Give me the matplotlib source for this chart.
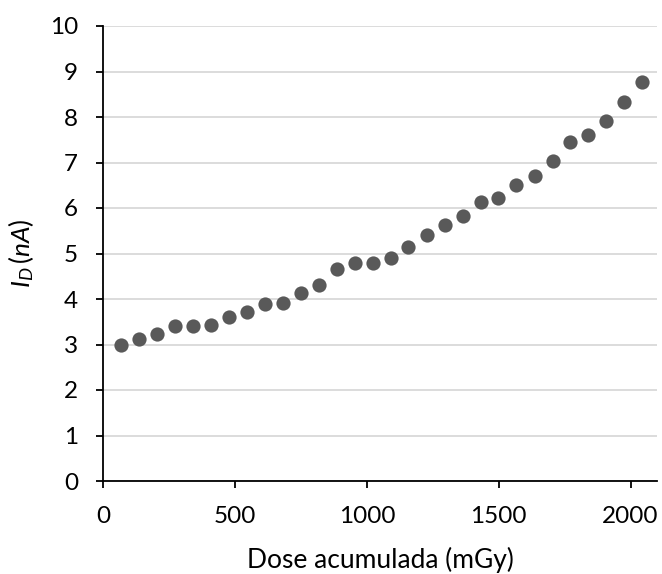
import matplotlib
matplotlib.use("Agg")
import matplotlib.pyplot as plt

dose = [68, 136, 205, 273, 341, 409, 477, 545, 614, 682, 750, 818, 886, 954, 1022,
        1090, 1158, 1227, 1295, 1363, 1431, 1499, 1567, 1636, 1704, 1772, 1840, 1908, 1976, 2044]
current = [3.00, 3.13, 3.23, 3.40, 3.40, 3.42, 3.60, 3.72, 3.90, 3.92, 4.13, 4.30, 4.66, 4.80, 4.80,
           4.90, 5.15, 5.40, 5.62, 5.82, 6.13, 6.22, 6.50, 6.70, 7.03, 7.45, 7.60, 7.92, 8.32, 8.78]
xticks = [0, 500, 1000, 1500, 2000]
yticks = list(range(0, 11))

plt.rcParams['font.family'] = ['Lato', 'DejaVu Sans']
plt.rcParams['mathtext.fontset'] = 'custom'
plt.rcParams['mathtext.it'] = 'Lato:italic'
plt.rcParams['mathtext.rm'] = 'Lato'

fig = plt.figure(figsize=(6.62, 5.74), dpi=100)
ax = fig.add_axes([103/662, 93/574, 554/662, 455/574])

ax.scatter(dose, current, s=105, color='#595959', zorder=3, linewidths=0)
ax.set_xlim(0, 2100)
ax.set_ylim(0, 10)
ax.set_xticks(xticks)
ax.set_yticks(yticks)
ax.yaxis.grid(True, color='#d9d9d9', linewidth=1.3, zorder=0)
ax.set_axisbelow(True)
for s in ['top', 'right']:
    ax.spines[s].set_visible(False)
for s in ['left', 'bottom']:
    ax.spines[s].set_linewidth(1.3)
    ax.spines[s].set_color('black')
ax.tick_params(axis='x', direction='out', length=5, width=1.3, labelsize=17.5, pad=13)
ax.tick_params(axis='y', direction='out', length=5, width=1.3, labelsize=17.5, pad=13)
ax.set_xlabel('Dose acumulada (mGy)', fontsize=19, labelpad=14)
ax.set_ylabel(r'$I_D\,(nA)$', fontsize=19, labelpad=10)

fig.savefig('out.png', dpi=100)
